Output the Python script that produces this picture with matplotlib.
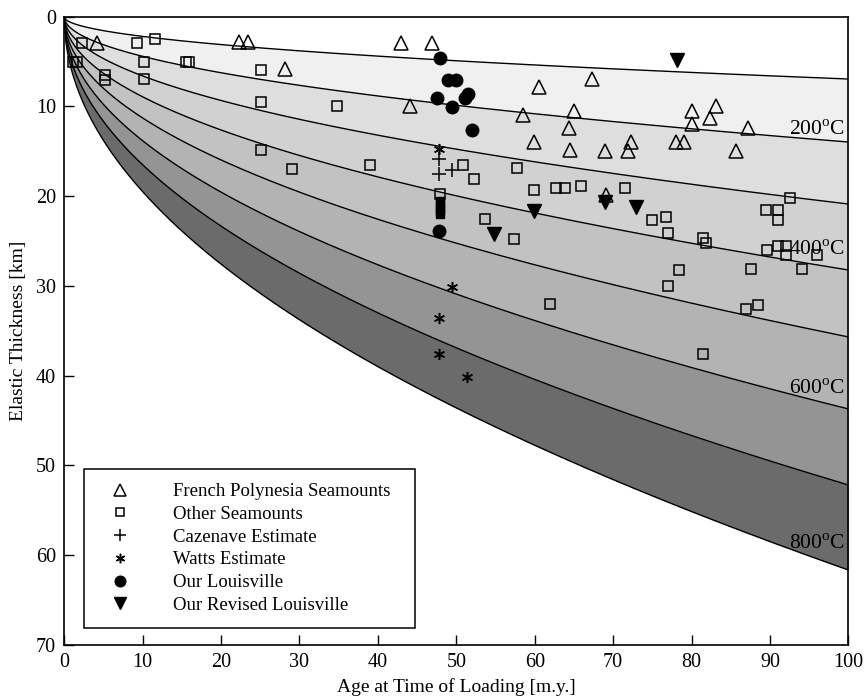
import numpy as np
import matplotlib
matplotlib.use("Agg")
import matplotlib.pyplot as plt

plt.rcParams["font.family"] = ["Liberation Serif", "DejaVu Serif"]
plt.rcParams["mathtext.fontset"] = "custom"
plt.rcParams["mathtext.rm"] = "Liberation Serif"

# isotherms: depth (km) reached at 100 m.y., curves scale with sqrt(age)
iso_temps = [100, 200, 300, 400, 500, 600, 700, 800]
iso_depth_100 = [6.94, 13.96, 20.87, 28.22, 35.68, 43.70, 52.17, 61.64]
band_grays = ["0.94", "0.87", "0.82", "0.76", "0.70", "0.58", "0.42"]
iso_labels = {200: 12.6, 400: 26.0, 600: 41.5, 800: 58.8}

# French Polynesia seamounts
fp_age = [4.2, 22.3, 23.4, 28.2, 43.0, 46.9, 44.1, 60.6, 67.3, 58.5, 65.0, 64.4, 59.9,
          64.5, 69.0, 71.85, 72.3, 69.1, 80.1, 83.1, 82.3, 80.1, 87.2, 78.0, 79.1, 85.7]
fp_te = [2.9, 2.8, 2.8, 5.85, 2.9, 2.9, 9.9, 7.85, 6.95, 11.0, 10.45, 12.4, 14.0,
         14.9, 15.0, 14.95, 14.0, 19.9, 10.5, 10.0, 11.3, 11.9, 12.4, 14.0, 14.0, 15.0]

# other seamounts
os_age = [2.2, 9.3, 11.6, 1.1, 1.6, 10.2, 15.5, 15.9, 25.1, 5.2, 5.2, 10.2, 25.1, 34.8,
          25.1, 29.0, 39.0, 50.9, 52.2, 47.9, 57.7, 59.9, 62.7, 63.9, 65.9, 71.5, 74.9,
          76.7, 53.7, 57.3, 77.0, 81.5, 81.8, 92.6, 89.5, 91.0, 91.0, 89.6, 91.0, 92.1,
          92.1, 96.0, 94.1, 87.6, 78.4, 77.0, 86.9, 88.5, 81.5, 61.9]
os_te = [2.9, 2.9, 2.5, 5.0, 5.0, 5.0, 5.0, 5.0, 5.9, 6.5, 7.0, 6.95, 9.45, 10.0,
         14.9, 17.0, 16.5, 16.5, 18.1, 19.7, 16.9, 19.3, 19.1, 19.1, 18.9, 19.05, 22.6,
         22.3, 22.5, 24.8, 24.1, 24.6, 25.2, 20.2, 21.5, 21.5, 22.7, 26.0, 25.5, 25.5,
         26.5, 26.6, 28.1, 28.1, 28.2, 30.0, 32.6, 32.1, 37.6, 32.0]

caz_age = [47.8, 47.8, 49.5]
caz_te = [15.8, 17.5, 17.1]

watts_age = [47.8, 49.4, 47.8, 47.8, 51.4]
watts_te = [14.7, 30.1, 33.6, 37.6, 40.1]

lv_age = [47.96, 49.0, 50.0, 47.5, 51.1, 51.5, 49.5, 52.0, 47.8]
lv_te = [4.6, 7.0, 7.0, 9.0, 9.0, 8.6, 10.1, 12.6, 23.9]

# stacked Louisville estimates drawn as a solid bar
bar_age = [47.9, 47.9, 47.9, 47.9, 47.9]
bar_te = [20.5, 20.9, 21.3, 21.7, 22.0]

rev_age = [78.1, 69.0, 72.9, 59.9, 54.8]
rev_te = [4.8, 20.6, 21.2, 21.6, 24.2]

fig = plt.figure(figsize=(8.66, 7.0), dpi=100)
ax = fig.add_axes([0.0742, 0.0786, 0.9054, 0.8975])

age = np.linspace(0, 100, 500)
curves = [d * np.sqrt(age / 100.0) for d in iso_depth_100]

for i in range(len(curves) - 1):
    ax.fill_between(age, curves[i], curves[i + 1], color=band_grays[i], lw=0, zorder=1)
for c in curves:
    ax.plot(age, c, color="black", lw=1.0, zorder=2)

for t, y in iso_labels.items():
    ax.text(99.6, y, "%d$^{\\rm o}$C" % t, ha="right", va="center", fontsize=15.5, zorder=3)

ax.plot(fp_age, fp_te, ls="none", marker="^", ms=10, mfc="none", mec="black", mew=1.1,
        label="French Polynesia Seamounts", zorder=4)
ax.plot(os_age, os_te, ls="none", marker="s", ms=7, mfc="none", mec="black", mew=1.1,
        label="Other Seamounts", zorder=4)
ax.plot(caz_age, caz_te, ls="none", marker="+", ms=10, mec="black", mew=1.1,
        label="Cazenave Estimate", zorder=4)
ax.plot(watts_age, watts_te, ls="none", marker=(6, 2, 0), ms=8, mec="black", mew=1.1,
        label="Watts Estimate", zorder=4)
ax.plot(lv_age, lv_te, ls="none", marker="o", ms=9, mfc="black", mec="black",
        label="Our Louisville", zorder=4)
ax.plot(bar_age, bar_te, ls="none", marker="s", ms=5.5, mfc="black", mec="black", zorder=4)
ax.plot(rev_age, rev_te, ls="none", marker="v", ms=9.5, mfc="black", mec="black",
        label="Our Revised Louisville", zorder=4)

ax.set_xlim(0, 100)
ax.set_ylim(70, 0)
ax.set_xticks(range(0, 101, 10))
ax.set_yticks(range(0, 71, 10))
ax.tick_params(direction="in", length=7, width=1, labelsize=14.5, pad=6)
for s in ax.spines.values():
    s.set_linewidth(1.2)

ax.set_xlabel("Age at Time of Loading [m.y.]", fontsize=14, labelpad=4)
ax.set_ylabel("Elastic Thickness [km]", fontsize=14, labelpad=6)

leg = ax.legend(loc="lower left", bbox_to_anchor=(0.025, 0.027, 0.422, 0.25), mode="expand",
                fontsize=13.5, frameon=True, fancybox=False, framealpha=1, edgecolor="black",
                borderaxespad=0, borderpad=0.75, labelspacing=0.3, handlelength=2.4,
                handletextpad=1.6, markerscale=0.85)
leg.get_frame().set_linewidth(1.1)
leg.set_zorder(5)

fig.savefig("out.png", dpi=100)
